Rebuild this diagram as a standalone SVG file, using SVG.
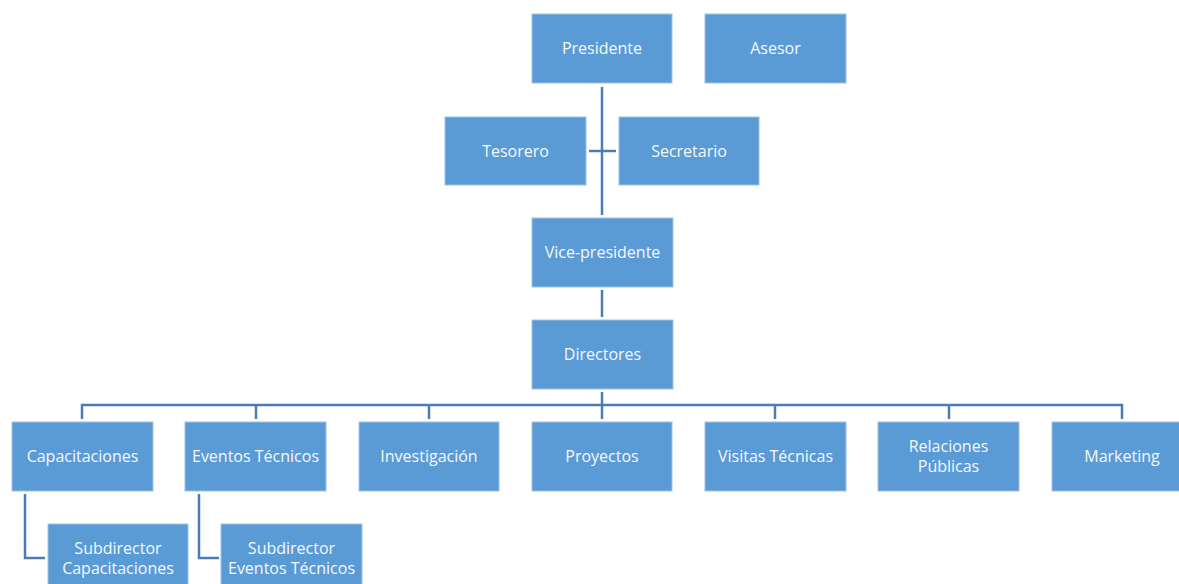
<svg xmlns="http://www.w3.org/2000/svg" width="1179" height="584" viewBox="0 0 1179 584">
<style>
.box{fill:#5B9BD5;stroke:#9DC3E6;stroke-width:1}
.t{font-family:"Open Sans","Liberation Sans",sans-serif;font-size:16px;fill:#F4F8FC;text-anchor:middle;dominant-baseline:central}
.c{fill:none;stroke:#4B7DB4;stroke-width:2.5}
</style>
<rect width="1179" height="584" fill="#FFFFFF"/>
<g id="connectors">
<path class="c" d="M602 87V215"/>
<path class="c" d="M589 151H616"/>
<path class="c" d="M602 290V317"/>
<path class="c" d="M602 392V419"/>
<path class="c" d="M82 419V405H1122V419"/>
<path class="c" d="M256 405V419M429 405V419M775 405V419M949 405V419"/>
<path class="c" d="M25 494V558H45"/>
<path class="c" d="M199 494V558H219"/>
</g>
<g id="presidente"><rect class="box" x="532" y="14" width="140" height="69"/><text class="t" x="602" y="48">Presidente</text></g>
<g id="asesor"><rect class="box" x="705" y="14" width="141" height="69"/><text class="t" x="775.5" y="48">Asesor</text></g>
<g id="tesorero"><rect class="box" x="445" y="117" width="141" height="68"/><text class="t" x="515.5" y="150.5">Tesorero</text></g>
<g id="secretario"><rect class="box" x="619" y="117" width="140" height="68"/><text class="t" x="689" y="150.5">Secretario</text></g>
<g id="vicepresidente"><rect class="box" x="532" y="218" width="141" height="69"/><text class="t" x="602.5" y="251.5">Vice-presidente</text></g>
<g id="directores"><rect class="box" x="532" y="320" width="141" height="69"/><text class="t" x="602.5" y="354">Directores</text></g>
<g id="capacitaciones"><rect class="box" x="12" y="422" width="141" height="69"/><text class="t" x="82.5" y="456">Capacitaciones</text></g>
<g id="eventos"><rect class="box" x="185" y="422" width="141" height="69"/><text class="t" x="255.5" y="456">Eventos Técnicos</text></g>
<g id="investigacion"><rect class="box" x="359" y="422" width="140" height="69"/><text class="t" x="429" y="456">Investigación</text></g>
<g id="proyectos"><rect class="box" x="532" y="422" width="140" height="69"/><text class="t" x="602" y="456">Proyectos</text></g>
<g id="visitas"><rect class="box" x="705" y="422" width="141" height="69"/><text class="t" x="775.5" y="456">Visitas Técnicas</text></g>
<g id="relaciones"><rect class="box" x="878" y="422" width="141" height="69"/><text class="t" x="948.5" y="445.5">Relaciones</text><text class="t" x="948.5" y="466">Públicas</text></g>
<g id="marketing"><rect class="box" x="1052" y="422" width="140" height="69"/><text class="t" x="1122" y="456">Marketing</text></g>
<g id="subcapacitaciones"><rect class="box" x="48" y="524" width="140" height="69"/><text class="t" x="118" y="547.5">Subdirector</text><text class="t" x="118" y="568">Capacitaciones</text></g>
<g id="subeventos"><rect class="box" x="221" y="524" width="141" height="69"/><text class="t" x="291.5" y="547.5">Subdirector</text><text class="t" x="291.5" y="568">Eventos Técnicos</text></g>
</svg>
